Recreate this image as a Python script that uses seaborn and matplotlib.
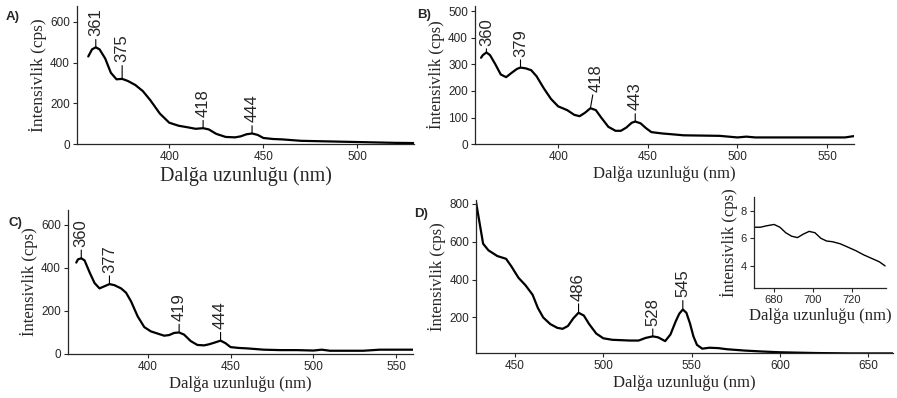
import numpy as np
import pandas as pd
import matplotlib
matplotlib.use("Agg")
import matplotlib.pyplot as plt
import seaborn as sns

# ---------------- data ----------------
a_wl = [357, 359, 361, 363, 366, 369, 372, 375, 378, 382, 386, 390, 395, 400, 405, 410, 414, 418, 421, 425, 430, 435, 438, 441, 444, 447, 450, 455, 460, 470, 480, 490, 500, 510, 520, 530]
a_int = [430, 465, 475, 465, 420, 350, 318, 320, 310, 290, 260, 215, 150, 105, 90, 82, 75, 78, 72, 50, 35, 33, 38, 48, 52, 45, 30, 25, 23, 16, 14, 12, 10, 8, 6, 5]
a_peaks = [361, 375, 418, 444]

b_wl = [357, 358, 360, 362, 365, 368, 371, 374, 377, 379, 382, 385, 388, 392, 396, 400, 405, 409, 412, 415, 418, 421, 424, 428, 432, 435, 438, 441, 443, 446, 449, 452, 458, 465, 470, 480, 490, 495, 500, 505, 510, 530, 550, 560, 565]
b_int = [325, 335, 345, 335, 300, 262, 252, 268, 283, 288, 285, 278, 255, 210, 170, 142, 128, 110, 105, 118, 135, 128, 100, 65, 50, 50, 62, 80, 85, 78, 60, 45, 40, 36, 33, 32, 31, 28, 25, 28, 25, 25, 25, 25, 30]
b_peaks = [360, 379, 418, 443]

c_wl = [357, 358, 360, 362, 365, 368, 371, 374, 377, 380, 384, 387, 390, 394, 398, 402, 406, 410, 413, 416, 419, 422, 426, 430, 434, 437, 440, 444, 447, 450, 455, 460, 470, 480, 490, 500, 505, 510, 520, 530, 540, 550, 560]
c_int = [425, 440, 445, 435, 380, 330, 305, 315, 325, 320, 305, 285, 245, 175, 125, 105, 95, 85, 88, 98, 100, 90, 60, 42, 40, 45, 52, 62, 50, 32, 28, 26, 20, 18, 18, 16, 20, 15, 15, 15, 20, 20, 20]
c_peaks = [360, 377, 419, 444]

d_wl = [428, 430, 432, 435, 440, 445, 448, 452, 456, 460, 463, 466, 470, 474, 477, 480, 483, 486, 489, 492, 496, 500, 505, 510, 515, 520, 524, 528, 531, 535, 538, 541, 543, 545, 547, 549, 551, 553, 556, 560, 565, 570, 580, 590, 600, 620, 640, 665]
d_int = [810, 700, 590, 555, 525, 510, 470, 410, 370, 320, 250, 200, 165, 145, 140, 155, 195, 225, 210, 165, 115, 90, 82, 80, 78, 78, 92, 100, 95, 75, 110, 180, 220, 242, 225, 170, 100, 55, 35, 40, 38, 32, 25, 20, 16, 12, 10, 10]
d_peaks = [486, 528, 545]

e_wl = [670, 673, 676, 680, 683, 686, 689, 692, 695, 698, 701, 704, 707, 710, 714, 718, 722, 726, 730, 734, 737]
e_int = [6.8, 6.8, 6.9, 7.0, 6.8, 6.4, 6.15, 6.05, 6.3, 6.5, 6.4, 6.0, 5.8, 5.75, 5.6, 5.35, 5.1, 4.8, 4.55, 4.3, 4.0]

xlabel = "Dalğa uzunluğu (nm)"
ylabel = "İntensivlik (cps)"

# ---------------- style ----------------
sns.set_style("ticks")
plt.rcParams["font.family"] = ["Liberation Sans", "DejaVu Sans"]
serif = ["Liberation Serif", "DejaVu Serif"]

fig = plt.figure(figsize=(8.97, 3.98), dpi=100)

def panel(rect, wl, inten, xlim, ylim, xticks, yticks, peaks=None, offsets=None,
          xl_size=12, yl_size=12, lw=1.6, tick_fs=8.5):
    ax = fig.add_axes(rect)
    df = pd.DataFrame({"wl": wl, "I": inten})
    sns.lineplot(data=df, x="wl", y="I", ax=ax, color="black", linewidth=lw)
    ax.set_xlim(*xlim)
    ax.set_ylim(*ylim)
    ax.set_xticks(xticks)
    ax.set_yticks(yticks)
    ax.tick_params(labelsize=tick_fs, length=3, width=0.8, pad=2)
    for s in ("top", "right"):
        ax.spines[s].set_visible(False)
    for s in ("left", "bottom"):
        ax.spines[s].set_linewidth(0.9)
    ax.set_xlabel(xlabel, family=serif, fontsize=xl_size, labelpad=2)
    ax.set_ylabel(ylabel, family=serif, fontsize=yl_size, labelpad=2)
    if peaks:
        for i, p in enumerate(peaks):
            yv = np.interp(p, wl, inten)
            dx, dy = offsets[i] if offsets else (0, 0.08)
            span = ylim[1] - ylim[0]
            ax.annotate(str(p), xy=(p, yv), xytext=(p + dx, yv + dy * span),
                        rotation=90, ha="center", va="bottom", fontsize=12,
                        arrowprops=dict(arrowstyle="-", color="black", lw=0.8,
                                        shrinkA=0, shrinkB=0))
    return ax

axA = panel([0.0858, 0.638, 0.3757, 0.347], a_wl, a_int, (351, 530), (0, 678),
            [400, 450, 500], [0, 200, 400, 600], a_peaks,
            [(0, 0.08), (0, 0.12), (0, 0.08), (0, 0.08)], xl_size=14.5, yl_size=12.5)
axB = panel([0.5295, 0.638, 0.4225, 0.347], b_wl, b_int, (353.6, 565), (0, 520),
            [400, 450, 500, 550], [0, 100, 200, 300, 400, 500], b_peaks,
            [(0, 0.05), (0, 0.08), (3, 0.12), (0, 0.08)])
axC = panel([0.0758, 0.1106, 0.3846, 0.362], c_wl, c_int, (352, 560), (0, 670),
            [400, 450, 500, 550], [0, 200, 400, 600], c_peaks,
            [(0, 0.08), (0, 0.08), (0, 0.08), (0, 0.08)])
axD = panel([0.5307, 0.113, 0.465, 0.384], d_wl, d_int, (428, 664), (12, 820),
            [450, 500, 550, 600, 650], [200, 400, 600, 800], d_peaks,
            [(0, 0.08), (0, 0.07), (0, 0.08)])
axE = panel([0.8406, 0.2764, 0.147, 0.229], e_wl, e_int, (669.7, 737.4), (2.4, 9),
            [680, 700, 720], [4, 6, 8], lw=1.0, tick_fs=8)

# panel letters
for txt, x, y in [("A)", 0.006, 0.958), ("B)", 0.465, 0.962), ("C)", 0.009, 0.44), ("D)", 0.462, 0.462)]:
    fig.text(x, y, txt, fontsize=9.5, fontweight="bold", ha="left", va="center")

fig.savefig("out.png", dpi=100)
